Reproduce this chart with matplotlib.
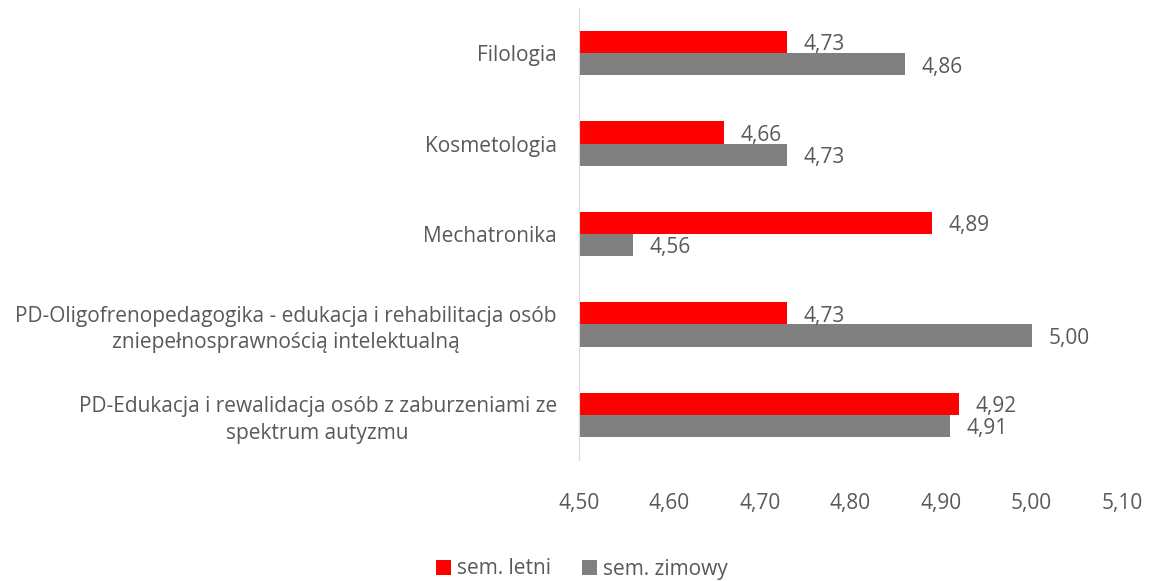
import numpy as np
import matplotlib.pyplot as plt

categories = [
    "Filologia",
    "Kosmetologia",
    "Mechatronika",
    "PD-Oligofrenopedagogika - edukacja i rehabilitacja osób\nzniepełnosprawnością intelektualną",
    "PD-Edukacja i rewalidacja osób z zaburzeniami ze\nspektrum autyzmu",
]
sem_letni = [4.73, 4.66, 4.89, 4.73, 4.92]
sem_zimowy = [4.86, 4.73, 4.56, 5.00, 4.91]
xticks = [4.50, 4.60, 4.70, 4.80, 4.90, 5.00, 5.10]

plt.rcParams['font.family'] = ['Open Sans', 'DejaVu Sans']
txt = '#595959'
fs = 15

fig = plt.figure(figsize=(11.53, 5.81), dpi=100)
ax = fig.add_axes([579 / 1153, 1 - 460 / 581, (1122 - 579) / 1153, (460 - 8) / 581])

y = np.arange(len(categories))
h = 0.245
ax.barh(y - h / 2, sem_letni, height=h, color='#FF0000', label='sem. letni')
ax.barh(y + h / 2, sem_zimowy, height=h, color='#808080', label='sem. zimowy')

for yi, v in zip(y - h / 2, sem_letni):
    ax.annotate(f"{v:.2f}".replace('.', ','), (v, yi), xytext=(12, -2), textcoords='offset points',
                va='center', ha='left', fontsize=fs, color=txt)
for yi, v in zip(y + h / 2, sem_zimowy):
    ax.annotate(f"{v:.2f}".replace('.', ','), (v, yi), xytext=(12, -2), textcoords='offset points',
                va='center', ha='left', fontsize=fs, color=txt)

ax.set_xlim(4.5, 5.1)
ax.set_ylim(len(categories) - 0.5, -0.5)
ax.set_xticks(xticks)
ax.set_xticklabels([f"{t:.2f}".replace('.', ',') for t in xticks], fontsize=fs, color=txt)
ax.set_yticks(y)
ax.set_yticklabels(categories, fontsize=fs, color=txt, ha='right', multialignment='center',
                   linespacing=1.35)
ax.tick_params(axis='y', length=0, pad=16)
ax.tick_params(axis='x', length=0, pad=24)
for s in ['top', 'right', 'bottom']:
    ax.spines[s].set_visible(False)
ax.spines['left'].set_color('#D9D9D9')

ax.legend(loc='center', bbox_to_anchor=(582 / 1153, 12 / 581), bbox_transform=fig.transFigure,
          ncol=2, frameon=False, fontsize=fs, handlelength=0.7, handleheight=0.7,
          columnspacing=1.5, handletextpad=0.3, labelcolor=txt)

plt.savefig("out.png")
